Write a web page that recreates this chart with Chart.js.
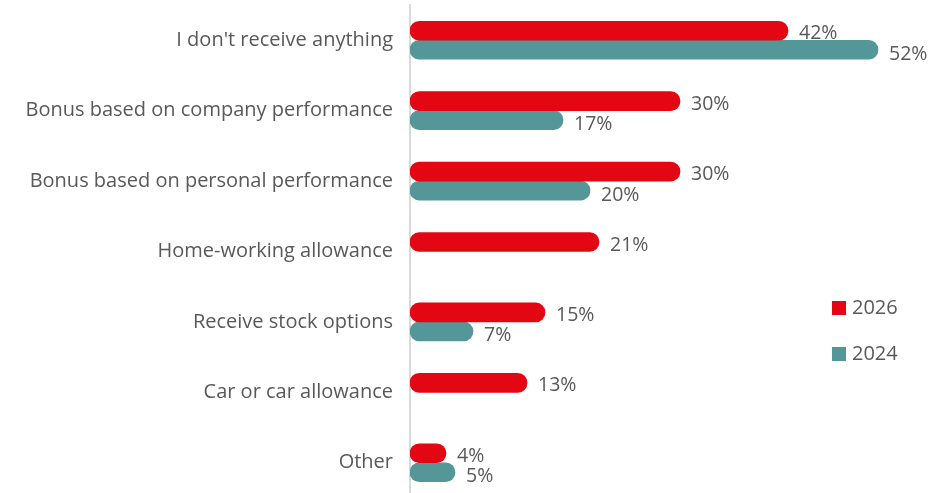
<!DOCTYPE html>
<html>
<head>
<meta charset="utf-8">
<script src="https://cdn.jsdelivr.net/npm/chart.js@4.4.1/dist/chart.umd.min.js"></script>
<style>
    html, body { margin: 0; padding: 0; background: #fff; overflow: hidden; }
    #wrap { position: relative; width: 940px; height: 498px; }
    .legend { position: absolute; left: 832px; font: 20px "Open Sans", sans-serif; color: #595959; }
    .legend span { display: inline-block; width: 14px; height: 14px; margin-right: 6px; vertical-align: -1px; }
</style>
</head>
<body>
<div id="wrap">
    <canvas id="benefits-chart"></canvas>
    <div class="legend" style="top: 293px;"><span style="background:#e30613"></span>2026</div>
    <div class="legend" style="top: 339px;"><span style="background:#559799"></span>2024</div>
</div>
<script>
// Categories and values (percent of respondents)
const categories = [
    "I don't receive anything",
    'Bonus based on company performance',
    'Bonus based on personal performance',
    'Home-working allowance',
    'Receive stock options',
    'Car or car allowance',
    'Other'
];
const values2026 = [42, 30, 30, 21, 15, 13, 4];
const values2024 = [52, 17, 20, null, 7, null, 5];

const RED = '#e30613';
const TEAL = '#559799';
const TEXT = '#595959';
const FONT = '"Open Sans", sans-serif';

// Draws "NN%" just past the end of each bar (2024 labels sit a bit lower)
const labelDrop = [3, 4.5];
const valueLabels = {
    id: 'valueLabels',
    afterDatasetsDraw(chart) {
        const ctx = chart.ctx;
        ctx.save();
        ctx.font = '19.5px ' + FONT;
        ctx.fillStyle = TEXT;
        ctx.textBaseline = 'middle';
        ctx.textAlign = 'left';
        chart.data.datasets.forEach((ds, i) => {
            const meta = chart.getDatasetMeta(i);
            meta.data.forEach((bar, j) => {
                const v = ds.data[j];
                if (v === null || v === undefined) return;
                ctx.fillText(v + '%', bar.x + 11, bar.y + labelDrop[i]);
            });
        });
        ctx.restore();
    }
};

new Chart(document.getElementById('benefits-chart'), {
    type: 'bar',
    data: {
        labels: categories,
        datasets: [
            {
                label: '2026',
                data: values2026,
                backgroundColor: RED,
                borderRadius: 10,
                borderSkipped: false,
                barThickness: 19
            },
            {
                label: '2024',
                data: values2024,
                backgroundColor: TEAL,
                borderRadius: 10,
                borderSkipped: false,
                barThickness: 19
            }
        ]
    },
    options: {
        indexAxis: 'y',
        responsive: true,
        maintainAspectRatio: false,
        animation: false,
        layout: { padding: { top: 5, right: 8, bottom: 0, left: 0 } },
        plugins: {
            legend: { display: false },
            tooltip: { enabled: false }
        },
        scales: {
            x: {
                display: false,
                min: 0,
                max: 58
            },
            y: {
                // fixed label column; no extra vertical padding from tick labels
                afterFit(scale) {
                    scale.width = 410;
                    scale.paddingTop = 0;
                    scale.paddingBottom = 0;
                },
                grid: { display: false, drawTicks: false },
                border: { color: '#d9d9d9', width: 2 },
                ticks: {
                    color: TEXT,
                    padding: 17,
                    font: { family: FONT, size: 20 }
                }
            }
        }
    },
    plugins: [valueLabels]
});
</script>
</body>
</html>
